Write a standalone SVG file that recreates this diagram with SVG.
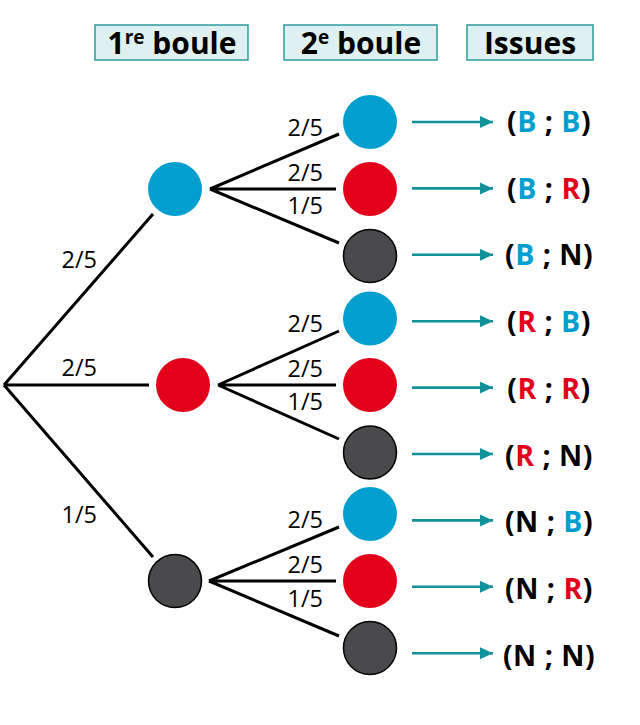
<svg xmlns="http://www.w3.org/2000/svg" width="640" height="725" viewBox="0 0 640 725">
<style>
.hdr{fill:#dff0f0;stroke:#2a9ca0;stroke-width:1.5}
.ht{font-family:"Open Sans",sans-serif;font-weight:700;font-size:30px;fill:#000;text-anchor:middle}
.sup{font-size:19px}
.br{stroke:#000;stroke-width:3;fill:none}
.lb{font-family:"Open Sans",sans-serif;font-size:23.5px;fill:#000;text-anchor:end}
.b{fill:#009fd0}
.r{fill:#e2001a}
.n{fill:#4a4a4c;stroke:#000;stroke-width:1.5}
.ar{stroke:#11929b;stroke-width:2.6;fill:none}
.is{font-family:"Open Sans",sans-serif;font-weight:700;font-size:28.5px;letter-spacing:0.5px;fill:#000;text-anchor:middle}
.cb{fill:#009fd0}
.cr{fill:#e2001a}
</style>
<defs>
<marker id="ah" markerUnits="userSpaceOnUse" markerWidth="14" markerHeight="14" refX="13" refY="6" orient="auto">
<path d="M0,0 L13,6 L0,12 Z" fill="#11929b"/>
</marker>
</defs>
<g id="headers">
<g id="h1"><rect class="hdr" x="95" y="25" width="153" height="35"/><text class="ht" x="172" y="54">1<tspan class="sup" dy="-10">re</tspan><tspan dy="10"> boule</tspan></text></g>
<g id="h2"><rect class="hdr" x="284" y="25" width="153" height="35"/><text class="ht" x="361" y="54">2<tspan class="sup" dy="-10">e</tspan><tspan dy="10"> boule</tspan></text></g>
<g id="h3"><rect class="hdr" x="467" y="25" width="126" height="35"/><text class="ht" x="530" y="54">Issues</text></g>
</g>
<g id="connectors">
<path class="br" d="M4,385 L153,214 M4,385 L149,385 M4,385 L153,557"/>
<path class="br" d="M210,189 L339,134 M210,189 L336,189 M210,189 L339,243"/>
<path class="br" d="M218,385 L339,331 M218,385 L336,385 M218,385 L339,439"/>
<path class="br" d="M209,581 L339,527 M209,581 L336,581 M209,581 L339,636"/>
<g id="arrows">
<line class="ar" x1="412" y1="122" x2="493" y2="122" marker-end="url(#ah)"/>
<line class="ar" x1="412" y1="188.4" x2="493" y2="188.4" marker-end="url(#ah)"/>
<line class="ar" x1="412" y1="254.8" x2="493" y2="254.8" marker-end="url(#ah)"/>
<line class="ar" x1="412" y1="321.2" x2="493" y2="321.2" marker-end="url(#ah)"/>
<line class="ar" x1="412" y1="387.6" x2="493" y2="387.6" marker-end="url(#ah)"/>
<line class="ar" x1="412" y1="454" x2="493" y2="454" marker-end="url(#ah)"/>
<line class="ar" x1="412" y1="520.4" x2="493" y2="520.4" marker-end="url(#ah)"/>
<line class="ar" x1="412" y1="586.8" x2="493" y2="586.8" marker-end="url(#ah)"/>
<line class="ar" x1="412" y1="653.2" x2="493" y2="653.2" marker-end="url(#ah)"/>
</g>
</g>
<g id="labels">
<text class="lb" x="97" y="268">2/5</text>
<text class="lb" x="97" y="376">2/5</text>
<text class="lb" x="97" y="523">1/5</text>
<text class="lb" x="323" y="136">2/5</text>
<text class="lb" x="323" y="181">2/5</text>
<text class="lb" x="323" y="214">1/5</text>
<text class="lb" x="323" y="332">2/5</text>
<text class="lb" x="323" y="377">2/5</text>
<text class="lb" x="323" y="410">1/5</text>
<text class="lb" x="323" y="528">2/5</text>
<text class="lb" x="323" y="573">2/5</text>
<text class="lb" x="323" y="607">1/5</text>
</g>
<g id="n-B"><circle class="b" cx="175" cy="189" r="27"/></g>
<g id="n-R"><circle class="r" cx="183" cy="385" r="27"/></g>
<g id="n-N"><circle class="n" cx="175" cy="581" r="26.5"/></g>
<g id="n-BB"><circle class="b" cx="370" cy="122" r="27"/></g>
<g id="n-BR"><circle class="r" cx="370" cy="189" r="27"/></g>
<g id="n-BN"><circle class="n" cx="370" cy="256" r="26.5"/></g>
<g id="n-RB"><circle class="b" cx="370" cy="318.5" r="27"/></g>
<g id="n-RR"><circle class="r" cx="370" cy="385" r="27"/></g>
<g id="n-RN"><circle class="n" cx="370" cy="452.5" r="26.5"/></g>
<g id="n-NB"><circle class="b" cx="370" cy="514" r="27"/></g>
<g id="n-NR"><circle class="r" cx="370" cy="581" r="27"/></g>
<g id="n-NN"><circle class="n" cx="370" cy="648" r="26.5"/></g>
<g id="issues">
<text class="is" x="549" y="132">(<tspan class="cb">B</tspan> ; <tspan class="cb">B</tspan>)</text>
<text class="is" x="549" y="198.7">(<tspan class="cb">B</tspan> ; <tspan class="cr">R</tspan>)</text>
<text class="is" x="549" y="265.4">(<tspan class="cb">B</tspan> ; N)</text>
<text class="is" x="549" y="332.1">(<tspan class="cr">R</tspan> ; <tspan class="cb">B</tspan>)</text>
<text class="is" x="549" y="398.8">(<tspan class="cr">R</tspan> ; <tspan class="cr">R</tspan>)</text>
<text class="is" x="549" y="465.5">(<tspan class="cr">R</tspan> ; N)</text>
<text class="is" x="549" y="532.2">(N ; <tspan class="cb">B</tspan>)</text>
<text class="is" x="549" y="598.9">(N ; <tspan class="cr">R</tspan>)</text>
<text class="is" x="549" y="665.6">(N ; N)</text>
</g>
</svg>
